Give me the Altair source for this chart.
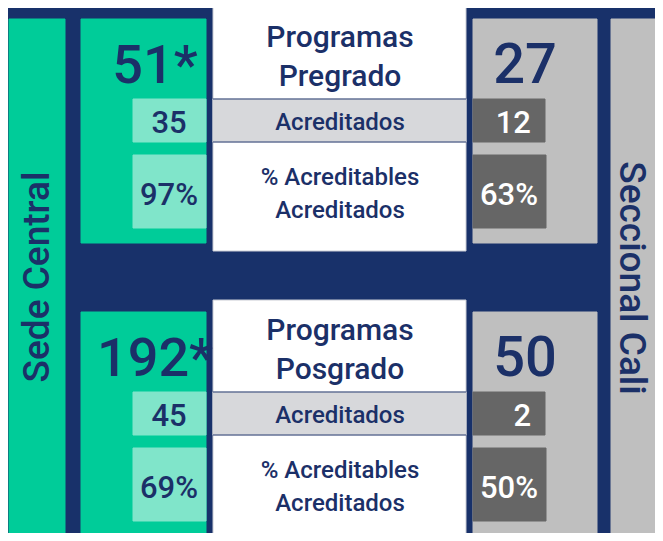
import altair as alt
import pandas as pd

# ---- values ----
levels = ["Pregrado", "Posgrado"]
central_total = ["51*", "192*"]
central_acred = [35, 45]
central_pct = [97, 69]
cali_total = [27, 50]
cali_acred = [12, 2]
cali_pct = [63, 50]
campus = ["Sede Central", "Seccional Cali"]
row_title = "Programas"
row_acred = "Acreditados"
row_pct = ["% Acreditables", "Acreditados"]

# ---- styling / layout ----
NAVY = "#18316a"
TEXT = "#1b3068"
GREEN = "#00cc99"
LGREEN = "#80e5ca"
WHITE = "#ffffff"
BAND = "#d7d8db"
GRAY = "#bfbfbf"
DGRAY = "#666666"
FONT = "Roboto"

W, H = 647, 525
X0, Y0 = 8, 8

rects = []
rules = []
tc = []   # center aligned text
tr = []   # right aligned text
for i, lvl in enumerate(levels):
    dy = 0 if i == 0 else 293
    rects += [
        dict(x=81, x2=206, y=19 + dy, y2=243 + dy, fill=GREEN, stroke=GREEN),
        dict(x=133, x2=206, y=99 + dy, y2=142 + dy, fill=LGREEN, stroke=LGREEN),
        dict(x=133, x2=206, y=155 + dy, y2=228 + dy, fill=LGREEN, stroke=LGREEN),
        dict(x=213, x2=466, y=7 + dy, y2=251 + dy + (6 if i else 0), fill=WHITE, stroke="#c9ccd4"),
        dict(x=213, x2=466, y=99 + dy, y2=142 + dy, fill=BAND, stroke=BAND),
        dict(x=473, x2=597, y=19 + dy, y2=243 + dy, fill=GRAY, stroke=GRAY),
        dict(x=473, x2=545, y=99 + dy, y2=142 + dy, fill=DGRAY, stroke=DGRAY),
        dict(x=473, x2=546, y=155 + dy, y2=228 + dy, fill=DGRAY, stroke=DGRAY),
    ]
    rules += [dict(x=213, x2=466, y=99 + dy), dict(x=213, x2=466, y=142 + dy)]
    tc += [
        dict(x=155, y=83 + dy, t=central_total[i], s=54, c=TEXT),
        dict(x=169, y=133 + dy, t=str(central_acred[i]), s=31, c=TEXT),
        dict(x=169, y=205 + dy, t=f"{central_pct[i]}%", s=31, c=TEXT),
        dict(x=340, y=47 + dy, t=row_title, s=30, c=TEXT),
        dict(x=340, y=86 + dy, t=lvl, s=30, c=TEXT),
        dict(x=340, y=130 + dy, t=row_acred, s=24, c=TEXT),
        dict(x=340, y=185 + dy, t=row_pct[0], s=24, c=TEXT),
        dict(x=340, y=218 + dy, t=row_pct[1], s=24, c=TEXT),
        dict(x=525, y=83 + dy, t=str(cali_total[i]), s=56, c=TEXT),
        dict(x=509, y=205 + dy, t=f"{cali_pct[i]}%", s=31, c=WHITE),
    ]
    tr += [dict(x=531, y=133 + dy, t=str(cali_acred[i]), s=31, c=WHITE)]

rects += [
    dict(x=9, x2=65, y=19, y2=537, fill=GREEN, stroke=GREEN),
    dict(x=611, x2=670, y=19, y2=537, fill=GRAY, stroke=GRAY),
]
trot = [
    dict(x=38, y=277, t=campus[0], s=37, c=TEXT, a=270),
    dict(x=631, y=278, t=campus[1], s=37, c=TEXT, a=90),
]

xs = alt.Scale(domain=[X0, X0 + W], nice=False, zero=False)
ys = alt.Scale(domain=[Y0, Y0 + H], nice=False, zero=False, reverse=True)

rect_layer = alt.Chart(pd.DataFrame(rects)).mark_rect(strokeWidth=1).encode(
    x=alt.X("x:Q", scale=xs, axis=None),
    x2="x2:Q",
    y=alt.Y("y:Q", scale=ys, axis=None),
    y2="y2:Q",
    fill=alt.Fill("fill:N", scale=None),
    stroke=alt.Stroke("stroke:N", scale=None),
)

rule_layer = alt.Chart(pd.DataFrame(rules)).mark_rule(color="#2b3f74", strokeWidth=1.2).encode(
    x=alt.X("x:Q", scale=xs, axis=None),
    x2="x2:Q",
    y=alt.Y("y:Q", scale=ys, axis=None),
)


def text_layer(rows, align, baseline, angle=False):
    enc = dict(
        x=alt.X("x:Q", scale=xs, axis=None),
        y=alt.Y("y:Q", scale=ys, axis=None),
        text="t:N",
        size=alt.Size("s:Q", scale=None, legend=None),
        color=alt.Color("c:N", scale=None),
    )
    if angle:
        enc["angle"] = alt.Angle("a:Q", scale=None)
    return alt.Chart(pd.DataFrame(rows)).mark_text(
        align=align, baseline=baseline, font=FONT, fontWeight=500
    ).encode(**enc)


chart = alt.layer(
    rect_layer,
    rule_layer,
    text_layer(tc, "center", "alphabetic"),
    text_layer(tr, "right", "alphabetic"),
    text_layer(trot, "center", "middle", angle=True),
).properties(
    width=W, height=H, background=NAVY, padding=0,
    autosize=alt.AutoSizeParams(type="none"),
).configure_view(stroke=None)

chart.save("out.html", embed_options={"renderer": "svg", "actions": False})
